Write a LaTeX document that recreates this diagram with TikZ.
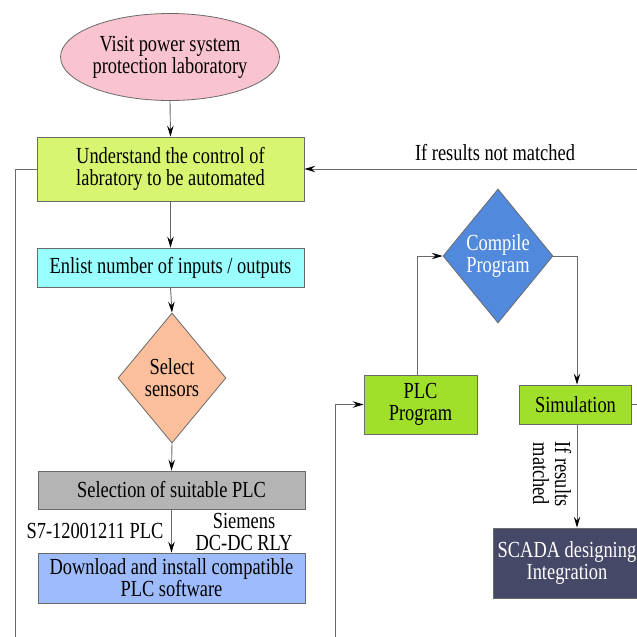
\documentclass[tikz,border=0pt]{standalone}
\usepackage{fontspec}
\setmainfont{Liberation Serif}[FakeStretch=0.8]
\usetikzlibrary{arrows.meta,shapes.geometric}
\definecolor{cpink}{HTML}{F9C3CF}
\definecolor{cyel}{HTML}{D8F571}
\definecolor{ccyan}{HTML}{99FFFF}
\definecolor{cpeach}{HTML}{FCBF9C}
\definecolor{cgray}{HTML}{B4B4B4}
\definecolor{cblue}{HTML}{9EBCFC}
\definecolor{cgreen}{HTML}{A0E02A}
\definecolor{cdblue}{HTML}{5189DC}
\definecolor{cnavy}{HTML}{454866}
\definecolor{cline}{HTML}{6A6A6A}
\tikzset{
  base/.style={draw=cline, line width=0.8pt, inner sep=0pt, align=center, font=\fontsize{23}{22}\selectfont},
  box/.style={base, rectangle},
  conn/.style={draw=cline, line width=0.9pt},
  arr/.style={conn, -{Stealth[length=11pt,width=6.5pt,inset=4pt,color=black]}},
  lbl/.style={inner sep=0pt, align=center, font=\fontsize{23}{22}\selectfont},
}
\begin{document}
\begin{tikzpicture}[x=1pt,y=-1pt]
\useasboundingbox (0,0) rectangle (637,637);
\clip (0,0) rectangle (637,637);
% nodes
\node[base, ellipse, fill=cpink, minimum width=214pt, minimum height=87pt] (visit) at (170,57) {Visit power system\\protection laboratory};
\node[box, fill=cyel, minimum width=267pt, minimum height=64pt] (und) at (170.5,169) {Understand the control of\\labratory to be automated};
\node[box, fill=ccyan, minimum width=267pt, minimum height=39pt] (enl) at (170.5,267.5) {Enlist number of inputs / outputs};
\node[base, diamond, fill=cpeach, minimum width=108pt, minimum height=130pt] (sel) at (172,378) {Select\\sensors};
\node[box, fill=cgray, minimum width=267pt, minimum height=38pt] (plcsel) at (171.5,490) {Selection of suitable PLC};
\node[box, fill=cblue, minimum width=267pt, minimum height=50pt] (down) at (171.5,578) {Download and install compatible\\PLC software};
\node[box, fill=cgreen, minimum width=113pt, minimum height=59pt] (prog) at (420.5,404.5) {PLC\\Program};
\node[base, diamond, fill=cdblue, text=white, minimum width=110pt, minimum height=134pt] (comp) at (498,256) {Compile\\Program};
\node[box, fill=cgreen, minimum width=112pt, minimum height=39pt] (sim) at (575.5,404.5) {Simulation};
\node[box, fill=cnavy, text=white, minimum width=148pt, minimum height=70pt] (scada) at (567,563) {SCADA designing\\Integration};
% labels
\node[lbl] (l1) at (95,531) {S7-12001211 PLC};
\node[lbl] (l2) at (244,532) {Siemens\\DC-DC RLY};
\node[lbl] (l3) at (495,153) {If results not matched};
\node[lbl, rotate=-90] (l4) at (552,474) {If results\\matched};
% coordinates
\coordinate (leftend) at (15,637);
\coordinate (rightin) at (637,169);
\coordinate (progin) at (335,637);
\coordinate (simout) at (637,404.5);
% connectors
\draw[arr] (visit.south) -- (und.north);
\draw[arr] (und.south) -- (enl.north);
\draw[arr] (enl.south) -- (sel.north);
\draw[arr] (sel.south) -- (plcsel.north);
\draw[arr] (plcsel.south) -- (down.north);
\draw[conn] (und.west) -| (leftend);
\draw[arr] (rightin) -- (und.east);
\draw[arr] (progin) |- (prog.west);
\draw[arr] (prog.north -| 417,0) |- (comp.west);
\draw[arr] (comp.east) -| (sim.north -| 577,0);
\draw[conn] (sim.east) -- (simout);
\draw[arr] (sim.south -| 577,0) -- (scada.north -| 577,0);
\end{tikzpicture}
\end{document}
